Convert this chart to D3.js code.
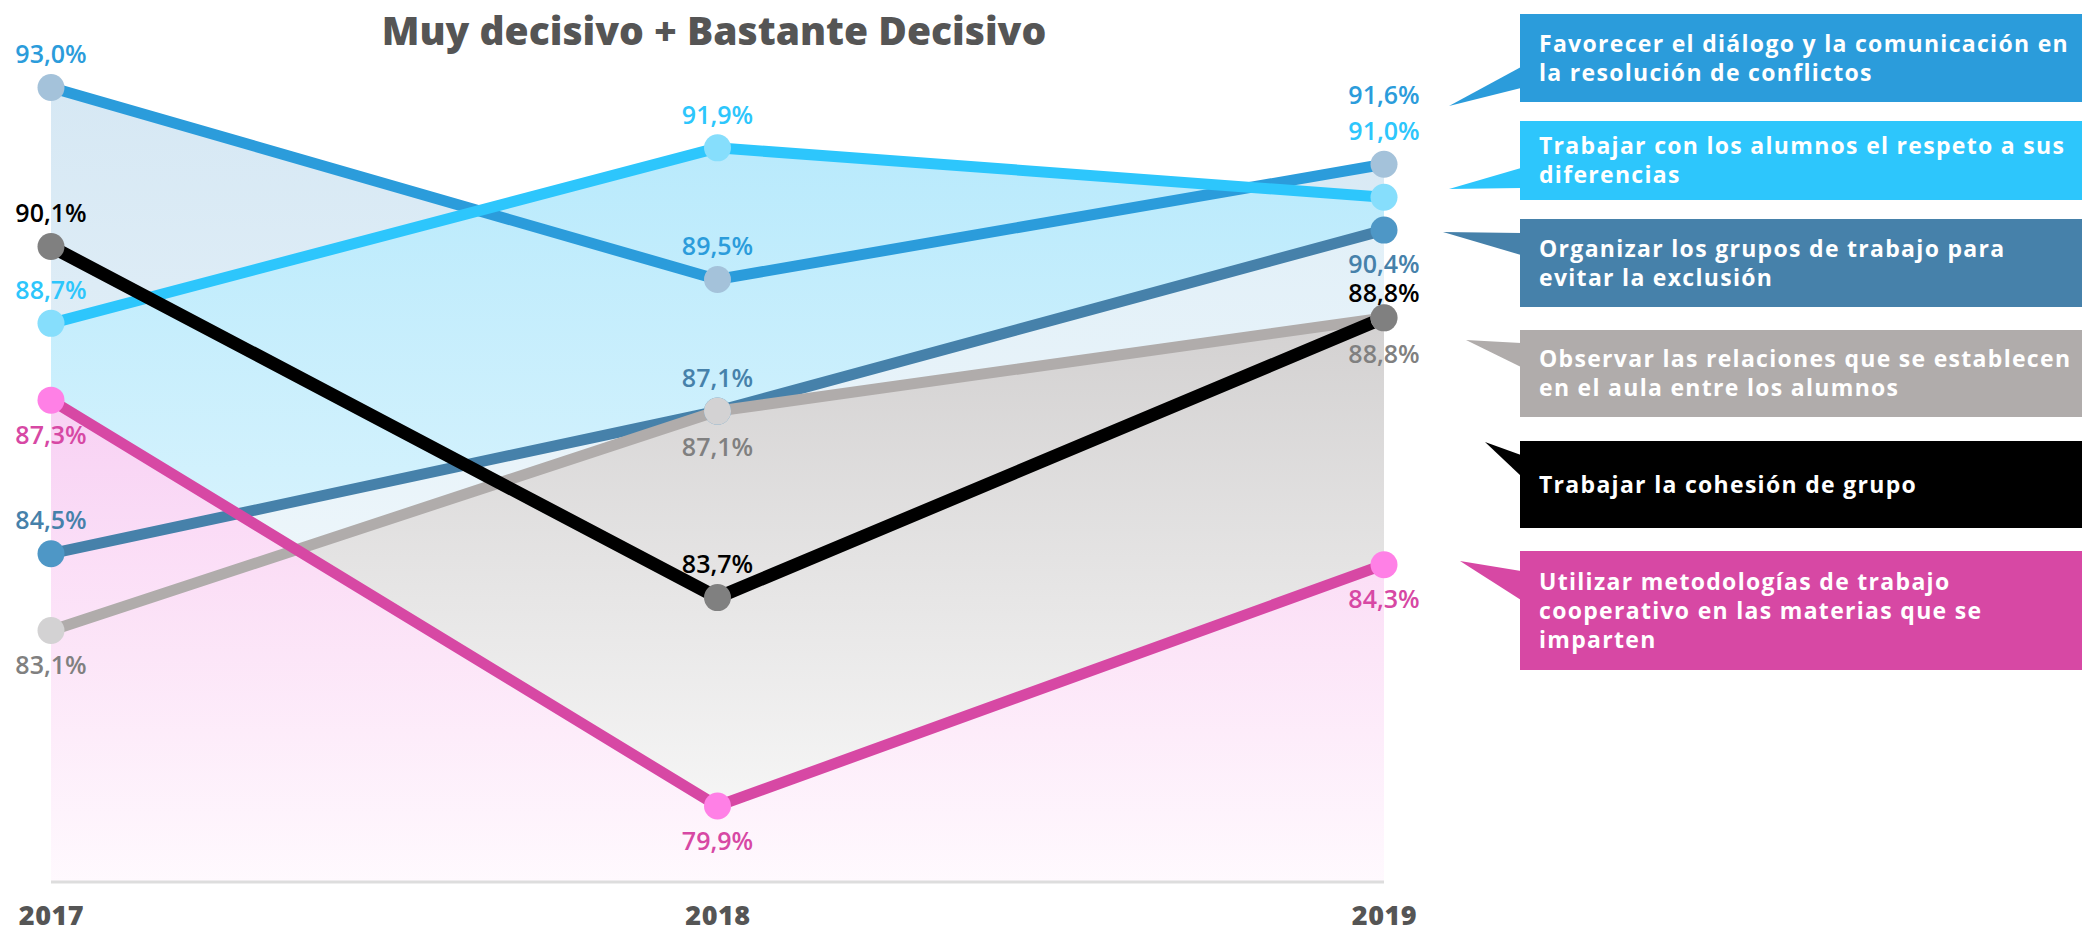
<!DOCTYPE html>
<html>
<head>
<meta charset="utf-8">
<script src="https://cdn.jsdelivr.net/npm/d3@7"></script>
<style>
  html, body { margin: 0; padding: 0; background: #fff; }
  svg { display: block; }
</style>
</head>
<body>
<svg id="chart" width="2082" height="933"></svg>
<script>
// ---------- DATA ----------
const years = ["2017", "2018", "2019"];
const seriesNames = [
  "Favorecer el diálogo y la comunicación en la resolución de conflictos",
  "Trabajar con los alumnos el respeto a sus diferencias",
  "Organizar los grupos de trabajo para evitar la exclusión",
  "Observar las relaciones que se establecen en el aula entre los alumnos",
  "Trabajar la cohesión de grupo",
  "Utilizar metodologías de trabajo cooperativo en las materias que se imparten"
];
const legendLines = [
  ["Favorecer el diálogo y la comunicación en", "la resolución de conflictos"],
  ["Trabajar con los alumnos el respeto a sus", "diferencias"],
  ["Organizar los grupos de trabajo para", "evitar la exclusión"],
  ["Observar las relaciones que se establecen", "en el aula entre los alumnos"],
  ["Trabajar la cohesión de grupo"],
  ["Utilizar metodologías de trabajo", "cooperativo en las materias que se", "imparten"]
];
const favorecer = [93.0, 89.5, 91.6];
const respeto   = [88.7, 91.9, 91.0];
const organizar = [84.5, 87.1, 90.4];
const observar  = [83.1, 87.1, 88.8];
const cohesion  = [90.1, 83.7, 88.8];
const utilizar  = [87.3, 79.9, 84.3];
const seriesValues = [favorecer, respeto, organizar, observar, cohesion, utilizar];
const titleText = "Muy decisivo + Bastante Decisivo";

// ---------- STYLE / LAYOUT ----------
const lineColors   = ["#2B9CDB", "#2DC6FC", "#4681AA", "#B0ACAB", "#000000", "#D748A4"];
const markerColors = ["#A4C2DA", "#86DEFC", "#4E97C6", "#D3D2D3", "#808080", "#FF80E6"];
const labelColors  = ["#2B9CDB", "#2DC6FC", "#4681AA", "#808080", "#000000", "#D748A4"];
const boxColors    = ["#2B9CDB", "#2DC6FC", "#4681AA", "#B0ACAB", "#000000", "#D748A4"];
// label vertical offset (px) relative to marker, per series per year
const labelOffsets = [
  [-33, -33, -69],
  [-33, -33, -66],
  [-33, -33, 34],
  [35, 36, 36],
  [-33, -33, -25],
  [35, 35, 35]
];
// callout boxes: [top, bottom, tipX, tipY, baseTop, baseBottom]
const callouts = [
  [14, 102, 1449, 106, 67, 88],
  [121, 200, 1449, 189, 168, 188],
  [219, 307, 1443, 232, 233, 255],
  [330, 417, 1466, 340, 343, 367],
  [441, 528, 1485, 442, 455, 476],
  [551, 670, 1460, 561, 571, 600]
];

const svg = d3.select("#chart");
const W = 2082, H = 933;
const baseY = 882;

const x = d3.scalePoint().domain(years).range([51, 1384]);
const y = d3.scaleLinear().domain([79.9, 93]).range([806, 87.5]);

const defs = svg.append("defs");
function grad(id, top, c1, c2) {
  const g = defs.append("linearGradient").attr("id", id)
    .attr("gradientUnits", "userSpaceOnUse")
    .attr("x1", 0).attr("x2", 0).attr("y1", top).attr("y2", baseY);
  g.append("stop").attr("offset", "0%").attr("stop-color", c1);
  g.append("stop").attr("offset", "100%").attr("stop-color", c2);
}
grad("gFav", y(93), "#d6e8f4", "#f2f8fc");
grad("gRes", y(91.9), "#b9eafc", "#f0fafe");
grad("gOrg", y(90.4), "#e2f0f8", "#f6fbfd");
grad("gObs", y(88.8), "#d3d1d1", "#fbfbfb");
grad("gUti", y(87.3), "#fbcff3", "#fff9fe");

const area = d3.area()
  .x((d, i) => x(years[i]))
  .y0(baseY)
  .y1(d => y(d));

const areaLayer = svg.append("g");
areaLayer.append("path").attr("d", area(favorecer)).attr("fill", "url(#gFav)");
areaLayer.append("path").attr("d", area(respeto)).attr("fill", "url(#gRes)");
areaLayer.append("path").attr("d", area(organizar)).attr("fill", "url(#gOrg)");
areaLayer.append("path").attr("d", area(observar)).attr("fill", "url(#gObs)");
areaLayer.append("path").attr("d", area(utilizar)).attr("fill", "url(#gUti)").attr("fill-opacity", 0.94);

// axis line
svg.append("line")
  .attr("x1", x(years[0])).attr("x2", x(years[2]))
  .attr("y1", baseY).attr("y2", baseY)
  .attr("stroke", "#dddddd").attr("stroke-width", 3);

// year labels via axis
const xAxis = d3.axisBottom(x).tickSize(0).tickPadding(0);
const ax = svg.append("g").attr("transform", `translate(0, ${baseY})`).call(xAxis);
ax.select(".domain").remove();
ax.selectAll("text")
  .attr("y", 34)
  .attr("dy", "0.35em")
  .attr("fill", "#555555")
  .style("font-family", "'Open Sans', sans-serif")
  .style("font-weight", 800)
  .style("font-size", "27px")
  .style("letter-spacing", "0.5px");

// lines
const line = d3.line().x((d, i) => x(years[i])).y(d => y(d));
const lineWidths = [11, 11, 11, 11, 13, 11];
seriesValues.forEach((vals, s) => {
  svg.append("path").attr("d", line(vals))
    .attr("fill", "none")
    .attr("stroke", lineColors[s])
    .attr("stroke-width", lineWidths[s])
    .attr("stroke-linejoin", "miter");
});

// markers
seriesValues.forEach((vals, s) => {
  svg.append("g").selectAll("circle").data(vals).join("circle")
    .attr("cx", (d, i) => x(years[i]))
    .attr("cy", d => y(d))
    .attr("r", 13.5)
    .attr("fill", markerColors[s]);
});

// value labels
const fmt = v => v.toFixed(1).replace(".", ",") + "%";
seriesValues.forEach((vals, s) => {
  svg.append("g").selectAll("text").data(vals).join("text")
    .attr("x", (d, i) => x(years[i]))
    .attr("y", (d, i) => y(d) + labelOffsets[s][i])
    .attr("dy", "0.35em")
    .attr("text-anchor", "middle")
    .attr("fill", labelColors[s])
    .style("font-family", "'Open Sans', sans-serif")
    .style("font-weight", 600)
    .style("font-size", "25px")
    .text(fmt);
});

// title
svg.append("text")
  .attr("x", 714).attr("y", 31).attr("dy", "0.35em")
  .attr("text-anchor", "middle")
  .attr("fill", "#555555")
  .style("font-family", "'Open Sans', sans-serif")
  .style("font-weight", 800)
  .style("font-size", "39px")
  .text(titleText);

// callouts
const boxX = 1520;
const lineH = 29;
callouts.forEach((c, s) => {
  const [top, bottom, tx, ty, bt, bb] = c;
  const g = svg.append("g");
  g.append("rect").attr("x", boxX).attr("y", top)
    .attr("width", W - boxX).attr("height", bottom - top)
    .attr("fill", boxColors[s]);
  g.append("path")
    .attr("d", `M${tx},${ty} L${boxX + 1},${bt} L${boxX + 1},${bb} Z`)
    .attr("fill", boxColors[s]);
  const lines = legendLines[s];
  const cy = (top + bottom) / 2;
  const t = g.append("text")
    .attr("fill", "#ffffff")
    .style("font-family", "'Open Sans', sans-serif")
    .style("font-weight", 700)
    .style("font-size", "23px")
    .style("letter-spacing", "1.3px");
  lines.forEach((ln, k) => {
    t.append("tspan")
      .attr("x", 1539)
      .attr("y", cy + (k - (lines.length - 1) / 2) * lineH)
      .attr("dy", "0.35em")
      .text(ln);
  });
});
</script>
</body>
</html>
